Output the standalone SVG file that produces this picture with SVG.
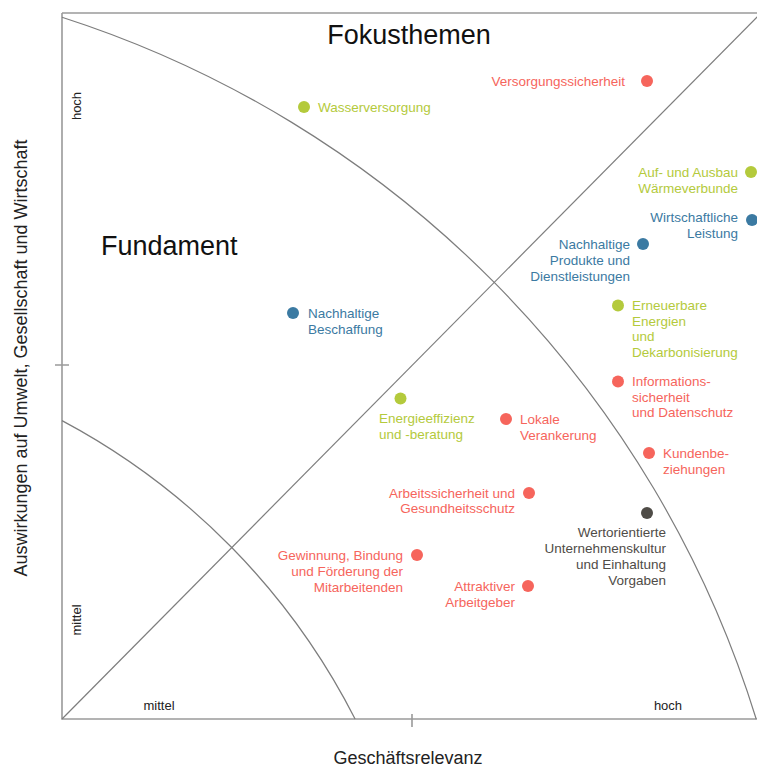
<svg xmlns="http://www.w3.org/2000/svg" width="757" height="769" viewBox="0 0 757 769">
<style>
text{font-family:"Liberation Sans",Arial,sans-serif;}
.lbl{font-size:13.5px;}
.r{fill:#f6655c;}
.g{fill:#b4ca3c;}
.b{fill:#3b7aa2;}
.d{fill:#4f4c47;}
.end{text-anchor:end;}
.ax{fill:none;stroke:#9a9a9a;stroke-width:1.6;}
.cv{fill:none;stroke:#7d7d7d;stroke-width:1.2;}
.small{font-size:13px;fill:#222;}
.big{font-size:27px;fill:#111;}
.axt{font-size:18px;fill:#222;text-anchor:middle;}
</style>
<g id="frame">
<path class="ax" d="M62,13 H757 M62,13 V719 H757"/>
<path class="ax" d="M412,714 V727 M55,365 H69"/>
</g>
<g id="connectors">
<path class="cv" d="M62,719 L761,13"/>
<path class="cv" d="M62,17.2 A1069,1069 0 0 1 756.2,719"/>
<path class="cv" d="M62,420.6 A696,696 0 0 1 355.1,719"/>
</g>
<g id="titles">
<text class="big" x="409" y="44" text-anchor="middle">Fokusthemen</text>
<text class="big" x="101" y="255">Fundament</text>
<text class="axt" transform="translate(27,358) rotate(-90)">Auswirkungen auf Umwelt, Gesellschaft und Wirtschaft</text>
<text class="axt" x="408" y="764">Geschäftsrelevanz</text>
<text class="small" text-anchor="middle" transform="translate(81,106) rotate(-90)">hoch</text>
<text class="small" text-anchor="middle" transform="translate(81,620) rotate(-90)">mittel</text>
<text class="small" x="159" y="710" text-anchor="middle">mittel</text>
<text class="small" x="668" y="710" text-anchor="middle">hoch</text>
</g>
<g id="n1"><circle class="g" cx="304" cy="107" r="6"/><text class="lbl g" x="318" y="112">Wasserversorgung</text></g>
<g id="n2"><circle class="r" cx="647" cy="81" r="6"/><text class="lbl r end" x="625" y="86">Versorgungssicherheit</text></g>
<g id="n3"><circle class="g" cx="751" cy="172" r="6"/><text class="lbl g end" x="738" y="177">Auf- und Ausbau<tspan x="738" dy="15.5">Wärmeverbunde</tspan></text></g>
<g id="n4"><circle class="b" cx="752" cy="220" r="6"/><text class="lbl b end" x="738" y="222">Wirtschaftliche<tspan x="738" dy="16">Leistung</tspan></text></g>
<g id="n5"><circle class="b" cx="643" cy="244" r="6"/><text class="lbl b end" x="630" y="248.5">Nachhaltige<tspan x="630" dy="16">Produkte und</tspan><tspan x="630" dy="16">Dienstleistungen</tspan></text></g>
<g id="n6"><circle class="b" cx="293" cy="313" r="6"/><text class="lbl b" x="308" y="317.5">Nachhaltige<tspan x="308" dy="16">Beschaffung</tspan></text></g>
<g id="n7"><circle class="g" cx="618" cy="305.5" r="6"/><text class="lbl g" x="632" y="310">Erneuerbare<tspan x="632" dy="15.7">Energien</tspan><tspan x="632" dy="15.7">und</tspan><tspan x="632" dy="15.7">Dekarbonisierung</tspan></text></g>
<g id="n8"><circle class="r" cx="618" cy="381.5" r="6"/><text class="lbl r" x="632" y="386">Informations-<tspan x="632" dy="15.5">sicherheit</tspan><tspan x="632" dy="15.5">und Datenschutz</tspan></text></g>
<g id="n9"><circle class="g" cx="400.5" cy="398.5" r="6"/><text class="lbl g" x="379" y="423">Energieeffizienz<tspan x="379" dy="16">und -beratung</tspan></text></g>
<g id="n10"><circle class="r" cx="506" cy="419" r="6"/><text class="lbl r" x="520" y="423.5">Lokale<tspan x="520" dy="16">Verankerung</tspan></text></g>
<g id="n11"><circle class="r" cx="649" cy="453" r="6"/><text class="lbl r" x="663" y="457.5">Kundenbe-<tspan x="663" dy="16">ziehungen</tspan></text></g>
<g id="n12"><circle class="r" cx="529" cy="493" r="6"/><text class="lbl r end" x="515" y="497.5">Arbeitssicherheit und<tspan x="515" dy="15.5">Gesundheitsschutz</tspan></text></g>
<g id="n13"><circle class="d" cx="647" cy="513" r="6"/><text class="lbl d end" x="666" y="536.5">Wertorientierte<tspan x="666" dy="16.3">Unternehmenskultur</tspan><tspan x="666" dy="16.3">und Einhaltung</tspan><tspan x="666" dy="16.3">Vorgaben</tspan></text></g>
<g id="n14"><circle class="r" cx="417" cy="555" r="6"/><text class="lbl r end" x="403" y="559.5">Gewinnung, Bindung<tspan x="403" dy="16">und Förderung der</tspan><tspan x="403" dy="16">Mitarbeitenden</tspan></text></g>
<g id="n15"><circle class="r" cx="528" cy="586" r="6"/><text class="lbl r end" x="515" y="590.5">Attraktiver<tspan x="515" dy="16">Arbeitgeber</tspan></text></g>
</svg>
